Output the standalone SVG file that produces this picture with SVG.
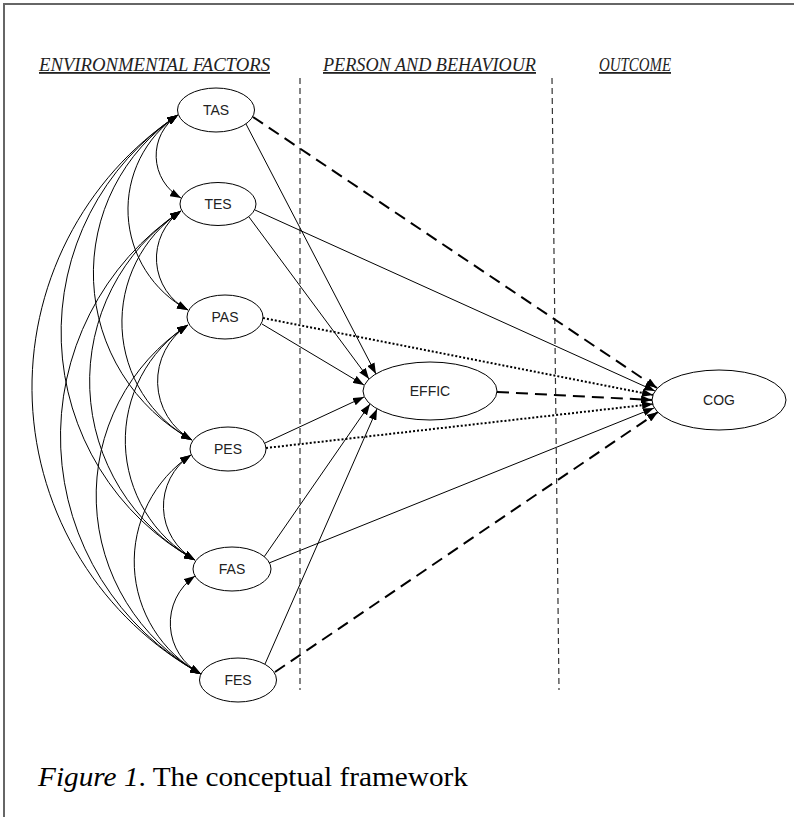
<svg xmlns="http://www.w3.org/2000/svg" width="794" height="817" viewBox="0 0 794 817">
<style>
.node ellipse{fill:#fff;stroke:#000;stroke-width:1}
.node text{font-family:"Liberation Sans",Arial,sans-serif;font-size:14px;fill:#222;text-anchor:middle;dominant-baseline:central}
.hdr{font-family:"Liberation Serif","Times New Roman",serif;font-style:italic;font-size:18px;fill:#222;text-decoration:underline}
.cap{font-family:"Liberation Serif","Times New Roman",serif;font-size:27px;fill:#000}
.sep{stroke:#333;stroke-width:1.2;stroke-dasharray:6 4;fill:none}
.solid{stroke:#000;stroke-width:1;fill:none;marker-end:url(#ah)}
.dash{stroke:#000;stroke-width:2;stroke-dasharray:12 7;fill:none;marker-end:url(#ah)}
.dot{stroke:#000;stroke-width:2;stroke-dasharray:2 2;fill:none;marker-end:url(#ah)}
.cov{stroke:#000;stroke-width:1;fill:none;marker-start:url(#ah2);marker-end:url(#ah2)}
</style>
<defs>
<marker id="ah" markerUnits="userSpaceOnUse" viewBox="0 0 11 8" refX="11" refY="4" markerWidth="11" markerHeight="8" orient="auto"><path d="M0,0 L11,4 L0,8 z" fill="#000"/></marker>
<marker id="ah2" markerUnits="userSpaceOnUse" viewBox="0 0 11 8" refX="11" refY="4" markerWidth="11" markerHeight="8" orient="auto-start-reverse"><path d="M0,0 L11,4 L0,8 z" fill="#000"/></marker>
</defs>
<rect x="4" y="4" width="820" height="840" fill="none" stroke="#666" stroke-width="2"/>
<g id="headers">
<text class="hdr" x="39" y="71" textLength="231" lengthAdjust="spacingAndGlyphs">ENVIRONMENTAL FACTORS</text>
<text class="hdr" x="323" y="71" textLength="213" lengthAdjust="spacingAndGlyphs">PERSON AND BEHAVIOUR</text>
<text class="hdr" x="599" y="71" textLength="72" lengthAdjust="spacingAndGlyphs">OUTCOME</text>
</g>
<g id="separators">
<line class="sep" x1="300" y1="78" x2="300" y2="690"/>
<line class="sep" x1="552" y1="78" x2="559" y2="690"/>
</g>
<g id="connectors">
<path class="solid" d="M246,124 L376,374"/>
<path class="solid" d="M249,217 L369,379"/>
<path class="solid" d="M262,324 L364,385"/>
<path class="solid" d="M265,443 L364,397"/>
<path class="solid" d="M264,557 L370,404"/>
<path class="solid" d="M265,664 L377,409"/>
<path class="dash" d="M253,117 L657,388"/>
<path class="solid" d="M255,210 L655,391"/>
<path class="dot" d="M263,318 L653,395"/>
<path class="dot" d="M266,448 L653,404"/>
<path class="solid" d="M269,563 L654,408"/>
<path class="dash" d="M275,672 L658,412"/>
<path class="dash" d="M497,392 L652,400"/>
<path class="cov" d="M178,115 A48.6,48.6 0 0 0 181,198"/>
<path class="cov" d="M178,115 A114.2,114.2 0 0 0 188,310"/>
<path class="cov" d="M178,115 A190.3,190.3 0 0 0 192,440"/>
<path class="cov" d="M178,115 A260.5,260.5 0 0 0 195,560"/>
<path class="cov" d="M178,115 A327.3,327.3 0 0 0 201,674"/>
<path class="cov" d="M181,211 A58,58 0 0 0 188,310"/>
<path class="cov" d="M181,211 A134.1,134.1 0 0 0 192,440"/>
<path class="cov" d="M181,211 A204.3,204.3 0 0 0 195,560"/>
<path class="cov" d="M181,211 A271.1,271.1 0 0 0 201,674"/>
<path class="cov" d="M188,325 A67.3,67.3 0 0 0 192,440"/>
<path class="cov" d="M188,325 A137.5,137.5 0 0 0 195,560"/>
<path class="cov" d="M188,325 A204.3,204.3 0 0 0 201,674"/>
<path class="cov" d="M191,455 A61.5,61.5 0 0 0 195,560"/>
<path class="cov" d="M191,455 A128.2,128.2 0 0 0 201,674"/>
<path class="cov" d="M195,576 A57.4,57.4 0 0 0 201,674"/>
</g>
<g id="TAS" class="node"><ellipse cx="216" cy="110" rx="38.5" ry="22"/><text x="216" y="110">TAS</text></g>
<g id="TES" class="node"><ellipse cx="218" cy="204" rx="38" ry="21.5"/><text x="218" y="204">TES</text></g>
<g id="PAS" class="node"><ellipse cx="225" cy="317" rx="38" ry="22"/><text x="225" y="317">PAS</text></g>
<g id="PES" class="node"><ellipse cx="228" cy="449" rx="38" ry="22"/><text x="228" y="449">PES</text></g>
<g id="FAS" class="node"><ellipse cx="232" cy="569" rx="39" ry="22"/><text x="232" y="569">FAS</text></g>
<g id="FES" class="node"><ellipse cx="238" cy="680" rx="38.5" ry="22"/><text x="238" y="680">FES</text></g>
<g id="EFFIC" class="node"><ellipse cx="430" cy="391" rx="67" ry="29"/><text x="430" y="391">EFFIC</text></g>
<g id="COG" class="node"><ellipse cx="719" cy="400" rx="67" ry="30"/><text x="719" y="400">COG</text></g>
<text class="cap" x="38" y="786" textLength="430" lengthAdjust="spacingAndGlyphs"><tspan font-style="italic">Figure 1</tspan>. The conceptual framework</text>
</svg>
